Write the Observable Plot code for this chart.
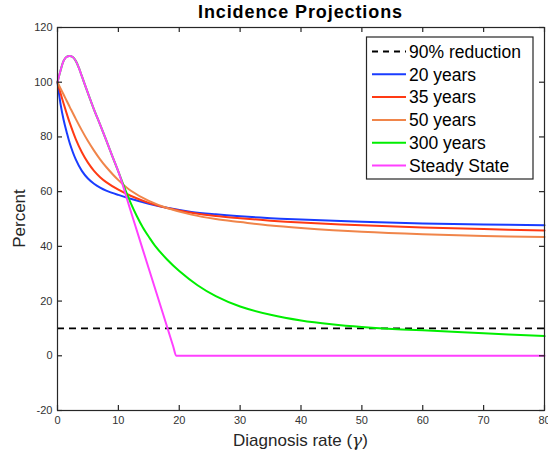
<!DOCTYPE html>
<html><head><meta charset="utf-8">
<script src="https://cdn.jsdelivr.net/npm/d3@7"></script>
<script src="https://cdn.jsdelivr.net/npm/@observablehq/plot@0.6"></script>
<style>
body{margin:0;background:#fff}
#wrap{position:relative;width:548px;height:454px}
#wrap svg{position:absolute;left:0;top:0}
</style>
</head><body><div id="wrap"></div>
<script>
// ---- data ----
const gammaA = [0,0.5,1,1.5,2,3,4,5,6,7,8,10,12,15,18,22,26,30,35,40,50,60,70,80];
const years20 = [100,92,86.3,81.8,77.8,71.8,67.6,64.8,62.9,61.5,60.4,58.8,57.4,55.6,54.1,52.6,51.7,51.0,50.3,49.8,49.0,48.4,48.0,47.7];
const years35 = [100,96,92.2,88.6,85.2,79.2,74.4,70.6,67.6,65.3,63.5,60.7,58.5,55.9,54.0,52.3,51.1,50.3,49.4,48.7,47.7,46.9,46.3,45.8];
const years50 = [100,97.7,95.5,93.2,91,86.6,82.4,78.5,75,71.8,69,64.2,60.4,56.6,54.0,51.6,50.0,48.9,47.6,46.7,45.3,44.4,43.8,43.4];
const gammaB = [0,0.5,1,1.5,2,2.5,3,3.5,4,5,6,7,8,9,10,11,12,13,14,15,16,18,20,23,26,30,35,40,45,50,55,60,70,80];
const years300 = [100,104.3,107.8,109.3,109.6,109.2,107.8,105.3,102.2,96,90,84.5,78.8,73,67.3,61.5,56,51.2,47,43.5,40.3,35.2,31,25.8,21.8,18.0,15,12.9,11.5,10.5,9.8,9.3,8.2,7.2];
const gammaC = [0,0.5,1,1.5,2,2.5,3,3.5,4,5,6,7,8,9,10,12,14,16,18,19,19.5,20,30,40,50,60,70,80];
const steadyState = [100,104.3,107.8,109.3,109.6,109.2,107.8,105.3,102.2,96,90,84.5,78.8,73,67.3,53.1,38.9,24.8,10.6,3.5,0,0,0,0,0,0,0,0];
const reductionLevel = [10];
const seriesNames = ["90% reduction","20 years","35 years","50 years","300 years","Steady State"];
const seriesColors = ["#000000","#1a3cff","#ff3a14","#f0854a","#00ee00","#ff40ff"];
const xTicks = [0,10,20,30,40,50,60,70,80];
const yTicks = [-20,0,20,40,60,80,100,120];
const titleText = "Incidence Projections";
const xLabel = "Diagnosis rate (";
const xLabelSym = "γ";
const yLabel = "Percent";

// ---- layout ----
const W = 548, H = 454, mL = 57, mR = 4, mT = 27, mB = 44;
const iw = W - mL - mR, ih = H - mT - mB;
const ink = "#262626";
const font = "'Liberation Sans', Arial, Helvetica, sans-serif";

const rows = (xs, ys) => xs.map((x, i) => ({x, y: ys[i]}));
const curves = [
  [gammaA, years20, 1, "catmull-rom"],
  [gammaA, years35, 2, "catmull-rom"],
  [gammaA, years50, 3, "catmull-rom"],
  [gammaB, years300, 4, "catmull-rom"],
  [gammaC, steadyState, 5, "monotone-x"]
];

const plot = Plot.plot({
  width: W, height: H,
  marginLeft: mL, marginRight: mR, marginTop: mT, marginBottom: mB,
  style: {fontFamily: font, background: "transparent"},
  x: {domain: [0, 80]},
  y: {domain: [-20, 120]},
  marks: [
    Plot.ruleY(reductionLevel, {x1: 0, x2: 80, stroke: seriesColors[0], strokeWidth: 1.8, strokeDasharray: "7,5"}),
    ...curves.map(([xs, ys, c, cv]) => Plot.line(rows(xs, ys), {x: "x", y: "y", stroke: seriesColors[c], strokeWidth: 2, curve: cv})),
    Plot.frame({stroke: ink, strokeWidth: 1.2}),
    Plot.ruleX(xTicks, {insetTop: ih - 5, stroke: ink, strokeWidth: 1.2}),
    Plot.ruleX(xTicks, {insetBottom: ih - 5, stroke: ink, strokeWidth: 1.2}),
    Plot.ruleY(yTicks, {insetLeft: iw - 5, stroke: ink, strokeWidth: 1.2}),
    Plot.ruleY(yTicks, {insetRight: iw - 5, stroke: ink, strokeWidth: 1.2}),
    Plot.axisX({ticks: xTicks, tickSize: 0, tickPadding: 6, fontSize: 11, fill: "#333", label: null, tickFormat: d => String(d)}),
    Plot.axisY({ticks: yTicks, tickSize: 0, tickPadding: 5, fontSize: 11, fill: "#333", label: null, tickFormat: d => String(d)})
  ]
});
const wrap = document.getElementById("wrap");
wrap.appendChild(plot);

// ---- overlay: title, axis labels, legend ----
const ov = d3.select(wrap).append("svg").attr("width", W).attr("height", H)
  .style("font-family", font);

ov.append("text").attr("x", mL + iw / 2).attr("y", 18).attr("text-anchor", "middle")
  .attr("font-weight", "bold").attr("font-size", 18).attr("letter-spacing", "0.9px")
  .attr("fill", "#000").text(titleText);

const xl = ov.append("text").attr("x", mL + iw / 2).attr("y", 446).attr("text-anchor", "middle")
  .attr("font-size", 17).attr("fill", ink);
xl.append("tspan").text(xLabel);
xl.append("tspan").attr("font-family", "'DejaVu Serif', 'Liberation Serif', serif").attr("font-style", "italic").text(xLabelSym);
xl.append("tspan").text(")");

ov.append("text").attr("transform", `translate(25,${mT + ih / 2}) rotate(-90)`).attr("text-anchor", "middle")
  .attr("font-size", 17).attr("fill", ink).text(yLabel);

const lg = ov.append("g");
lg.append("rect").attr("x", 366.5).attr("y", 37).attr("width", 166.5).attr("height", 142)
  .attr("fill", "#fff").attr("stroke", ink).attr("stroke-width", 1.2);
seriesNames.forEach((name, i) => {
  const y = 51.5 + i * 22.8;
  lg.append("line").attr("x1", 372).attr("x2", 406).attr("y1", y).attr("y2", y)
    .attr("stroke", seriesColors[i]).attr("stroke-width", i === 0 ? 1.8 : 2)
    .attr("stroke-dasharray", i === 0 ? "6,5" : null);
  lg.append("text").attr("x", 409).attr("y", y).attr("dy", "0.36em")
    .attr("font-size", 17.5).attr("fill", "#000").text(name);
});
</script>
</body></html>
